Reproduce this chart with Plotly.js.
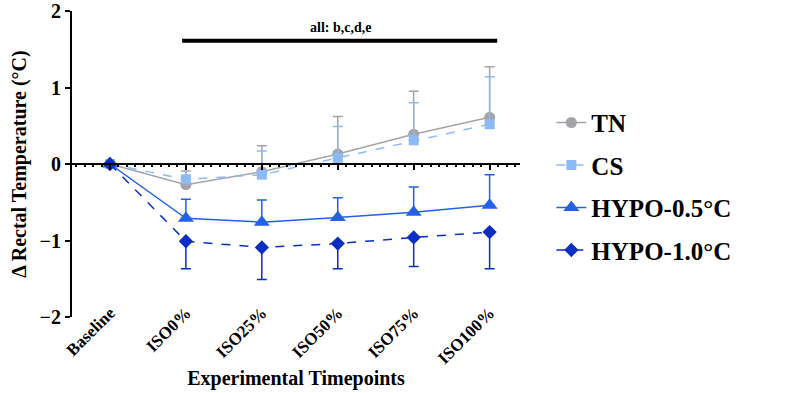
<!DOCTYPE html>
<html>
<head>
<meta charset="utf-8">
<script src="https://cdn.plot.ly/plotly-3.0.1.min.js"></script>
<style>
html,body{margin:0;padding:0;background:#fff}
#chart{width:787px;height:393px}
</style>
</head>
<body>
<div id="chart"></div>
<script>
// ---- data ----
const categories = ["Baseline", "ISO0%", "ISO25%", "ISO50%", "ISO75%", "ISO100%"];
const seriesNames = ["TN", "CS", "HYPO-0.5°C", "HYPO-1.0°C"];
const tnMean   = [0, -0.27, -0.10, 0.13, 0.39, 0.61];
const tnErrUp  = [0, 0.18, 0.34, 0.49, 0.56, 0.66];
const csMean   = [0, -0.20, -0.14, 0.08, 0.31, 0.52];
const csErrUp  = [0, 0.20, 0.31, 0.41, 0.49, 0.62];
const h05Mean  = [0, -0.71, -0.76, -0.70, -0.63, -0.54];
const h05ErrUp = [0, 0.25, 0.29, 0.26, 0.33, 0.40];
const h10Mean  = [0, -1.01, -1.09, -1.04, -0.96, -0.89];
const h10ErrDn = [0, 0.36, 0.42, 0.33, 0.38, 0.48];
const sigLabel = "all: b,c,d,e";
const yTicks = [-2, -1, 0, 1, 2];

const xIdx = categories.map((_, i) => i);
const zeros = categories.map(() => 0);
const FONT = "Liberation Serif, Times New Roman, serif";
const colors = ["#a4a4a8", "#8dbaf6", "#2362e6", "#0a2ec2"];

function tr(name, y, up, dn, color, dash, symbol, size, group) {
  return {
    type: "scatter", mode: "lines+markers", name: name,
    x: xIdx, y: y, xaxis: "x", yaxis: "y",
    line: {color: color, width: 1.5, dash: dash},
    marker: {color: color, symbol: symbol, size: size},
    error_y: {type: "data", symmetric: false, array: up, arrayminus: dn,
              color: color, thickness: 1.5, width: 5},
    legendgroup: group
  };
}

const traces = [
  tr(seriesNames[0], tnMean, tnErrUp, zeros, colors[0], "solid", "circle", 11, "g1"),
  tr(seriesNames[1], csMean, csErrUp, zeros, colors[1], "dash", "square", 10, "g2"),
  tr(seriesNames[2], h05Mean, h05ErrUp, zeros, colors[2], "solid", "triangle-up", 14, "g3"),
  tr(seriesNames[3], h10Mean, zeros, h10ErrDn, colors[3], "dash", "diamond", 11, "g4"),
  {type: "scatter", mode: "markers", x: xIdx, y: zeros, xaxis: "x2", yaxis: "y",
   marker: {opacity: 0}, showlegend: false, hoverinfo: "skip"}
];

const bold = (s) => ({family: FONT, weight: "bold", color: "#000", size: s});
const xr = [-0.5, 5.4];
const layout = {
  width: 787, height: 393,
  margin: {l: 72, r: 267, t: 11, b: 76},
  paper_bgcolor: "#fff", plot_bgcolor: "rgba(0,0,0,0)",
  font: {family: FONT, color: "#000", weight: "bold"},
  showlegend: true,
  legend: {x: 1.07, y: 0.71, xanchor: "left", yanchor: "top",
           font: bold(25), tracegroupgap: 7, itemsizing: "trace"},
  xaxis: {range: xr, tickmode: "array", tickvals: xIdx, ticktext: categories,
          anchor: "free", position: 0.06,
          tickangle: -45, showline: false, showgrid: false, zeroline: false, ticks: "",
          tickfont: bold(17),
          title: {text: "Experimental Timepoints", font: bold(20), standoff: 4}},
  xaxis2: {range: xr, overlaying: "x", anchor: "free", position: 0.5, side: "bottom",
           showline: true, linecolor: "#000", linewidth: 2, showgrid: false, zeroline: false,
           tickmode: "array", tickvals: xIdx, ticks: "outside", ticklen: 5, tickwidth: 2, tickcolor: "#000",
           showticklabels: false,
           minor: {tickmode: "linear", tick0: 0, dtick: 1/9, ticks: "outside", ticklen: 2, tickwidth: 2, tickcolor: "#000", showgrid: false}},
  yaxis: {range: [-2, 2], tickmode: "array", tickvals: yTicks,
          ticks: "outside", ticklen: 5, tickwidth: 2, tickcolor: "#000",
          showline: true, linecolor: "#000", linewidth: 2, showgrid: false, zeroline: false,
          tickfont: bold(20),
          title: {text: "Δ Rectal Temperature (°C)", font: bold(20), standoff: 8}},
  annotations: [{x: 3.03, y: 1.78, xref: "x", yref: "y", text: sigLabel, showarrow: false,
                 font: bold(14)}],
  shapes: [{type: "line", xref: "x", yref: "y", x0: 0.95, x1: 5.1, y0: 1.61, y1: 1.61,
            line: {color: "#000", width: 4}}]
};

Plotly.newPlot("chart", traces, layout, {displayModeBar: false, staticPlot: true});
</script>
</body>
</html>
